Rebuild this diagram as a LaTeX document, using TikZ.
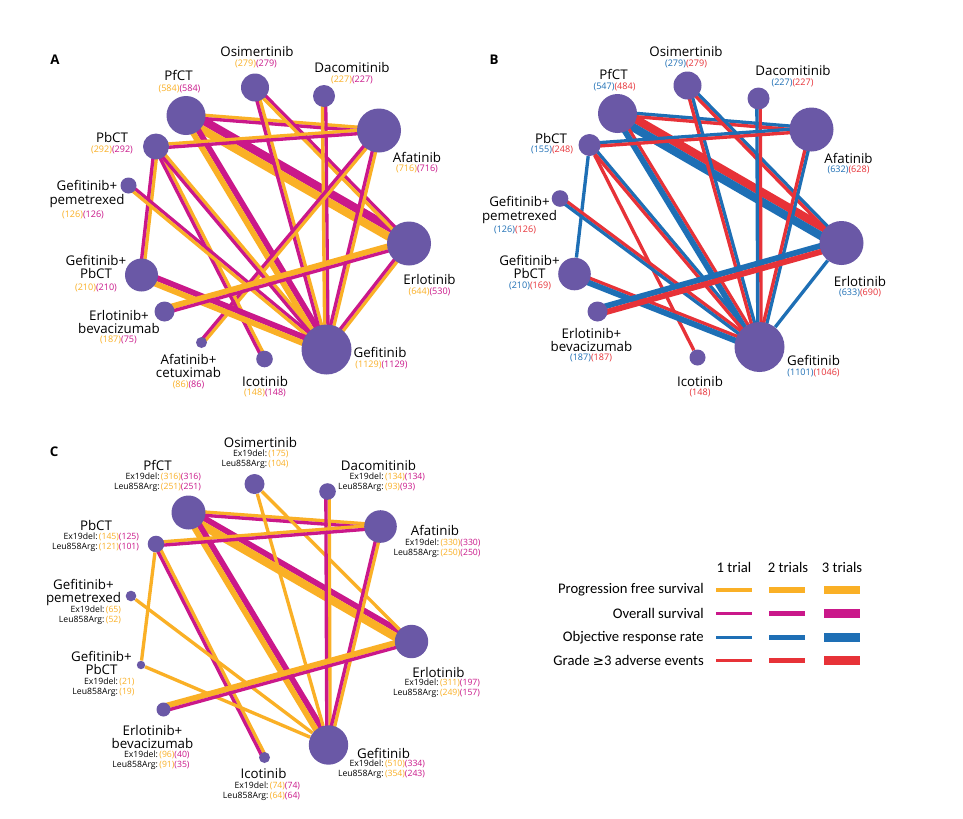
\documentclass[tikz,border=0pt]{standalone}
\usepackage{fontspec}
\setmainfont{Open Sans}
\newfontfamily\legfont{Carlito}
\usetikzlibrary{calc,backgrounds}

\definecolor{drugpurple}{RGB}{106,88,166}
\definecolor{pfs}{RGB}{250,176,38}
\definecolor{os}{RGB}{202,24,138}
\definecolor{orr}{RGB}{30,111,181}
\definecolor{ae}{RGB}{231,50,56}

% patient numbers
\newcommand{\npfs}[1]{\textcolor{pfs}{(#1)}}
\newcommand{\nos}[1]{\textcolor{os}{(#1)}}
\newcommand{\norr}[1]{\textcolor{orr}{(#1)}}
\newcommand{\nae}[1]{\textcolor{ae}{(#1)}}
\newcommand{\mut}[2]{\begin{tabular}{@{}r@{\,}l@{}}Ex19del: & #1\\Leu858Arg: & #2\end{tabular}}

% two outcomes side by side: from, to, left colour, trials, right colour, trials
\newcommand{\twin}[6]{%
  \pgfmathsetmacro{\hl}{0.3125+0.9375*#4}%
  \pgfmathsetmacro{\hr}{0.3125+0.9375*#6}%
  \draw[#3, line width=2*\hl pt] ($(#1.center)!\hl pt!90:(#2.center)$) -- ($(#2.center)!\hl pt!-90:(#1.center)$);
  \draw[#5, line width=2*\hr pt] ($(#1.center)!\hr pt!-90:(#2.center)$) -- ($(#2.center)!\hr pt!90:(#1.center)$);
}

\begin{document}
\begin{tikzpicture}[x=0.75pt,y=-0.75pt,
    drug/.style={circle,fill=drugpurple,inner sep=0pt,minimum size=#1*1.5pt},
    drugname/.style={font=\fontsize{10}{9.8}\selectfont,align=center,inner sep=0pt},
    nums/.style={font=\fontsize{6.8}{7.5}\selectfont,inner sep=0pt},
    subrow/.style={font=\fontsize{6.5}{7.5}\selectfont,inner sep=0pt},
    panel/.style={font=\bfseries\fontsize{10}{10}\selectfont,inner sep=0pt},
    legtext/.style={font=\legfont\fontsize{11}{12}\selectfont,inner sep=0pt},
    tr1/.style={line width=2.5pt},
    tr2/.style={line width=4.375pt},
    tr3/.style={line width=6.25pt}]
    \useasboundingbox (0,0) rectangle (963,818);

    % Panel A: progression free survival and overall survival
    \node[drug=19.5] (pfctA) at (186,115.5) {};
    \node[drug=14] (osimA) at (255,87.5) {};
    \node[drug=11] (dacoA) at (324,96) {};
    \node[drug=22] (afatA) at (379,130.5) {};
    \node[drug=13] (pbctA) at (156,146.5) {};
    \node[drug=8] (gpemA) at (128.5,185.5) {};
    \node[drug=22] (erloA) at (409,243.5) {};
    \node[drug=16.5] (gpbctA) at (141.5,275) {};
    \node[drug=10] (erbevA) at (164.5,311.5) {};
    \node[drug=5.5] (afcetA) at (201.5,342.5) {};
    \node[drug=8.3] (icotA) at (264.5,359) {};
    \node[drug=25] (gefiA) at (326.5,349.5) {};

    \node[panel] (labA) at (55,60) {A};
    \node[drugname] (osimAt) at (257,51) {Osimertinib};
    \node[nums] (osimAn) at (256,64) {\npfs{279}\nos{279}};
    \node[drugname] (dacoAt) at (352,67) {Dacomitinib};
    \node[nums] (dacoAn) at (352,79.5) {\npfs{227}\nos{227}};
    \node[drugname] (pfctAt) at (178.5,75) {PfCT};
    \node[nums] (pfctAn) at (179.5,89) {\npfs{584}\nos{584}};
    \node[drugname] (pbctAt) at (112,137.5) {PbCT};
    \node[nums] (pbctAn) at (112,149.5) {\npfs{292}\nos{292}};
    \node[drugname] (afatAt) at (417,157) {Afatinib};
    \node[nums] (afatAn) at (417,169) {\npfs{716}\nos{716}};
    \node[drugname] (gpemAt) at (87,194) {Gefitinib+\\pemetrexed};
    \node[nums] (gpemAn) at (83,214.5) {\npfs{126}\nos{126}};
    \node[drugname] (gpbctAt) at (96,267) {Gefitinib+\\PbCT};
    \node[nums] (gpbctAn) at (96,288) {\npfs{210}\nos{210}};
    \node[drugname] (erbevAt) at (119,322) {Erlotinib+\\bevacizumab};
    \node[nums] (erbevAn) at (118.5,340) {\npfs{187}\nos{75}};
    \node[drugname] (afcetAt) at (188.5,366) {Afatinib+\\cetuximab};
    \node[nums] (afcetAn) at (188.5,384.5) {\npfs{86}\nos{86}};
    \node[drugname] (icotAt) at (265,381) {Icotinib};
    \node[nums] (icotAn) at (265,393) {\npfs{148}\nos{148}};
    \node[drugname] (gefiAt) at (380,352.5) {Gefitinib};
    \node[nums] (gefiAn) at (381.5,365) {\npfs{1129}\nos{1129}};
    \node[drugname] (erloAt) at (429.5,279.5) {Erlotinib};
    \node[nums] (erloAn) at (429.5,292) {\npfs{644}\nos{530}};

    % Panel B: objective response rate and grade >=3 adverse events
    \node[drug=19.5] (pfctB) at (617.5,113.5) {};
    \node[drug=14] (osimB) at (687.5,85.5) {};
    \node[drug=11] (dacoB) at (758.5,98.5) {};
    \node[drug=22] (afatB) at (811.5,129.5) {};
    \node[drug=11] (pbctB) at (589.5,145) {};
    \node[drug=8.3] (gpemB) at (560,198.5) {};
    \node[drug=22] (erloB) at (841.5,243) {};
    \node[drug=16.3] (gpbctB) at (574.5,274) {};
    \node[drug=10] (erbevB) at (597.5,311.5) {};
    \node[drug=8] (icotB) at (697.5,357.5) {};
    \node[drug=25] (gefiB) at (759.5,347) {};

    \node[panel] (labB) at (494,59.5) {B};
    \node[drugname] (osimBt) at (686,51) {Osimertinib};
    \node[nums] (osimBn) at (686,64) {\norr{279}\nae{279}};
    \node[drugname] (dacoBt) at (793,70) {Dacomitinib};
    \node[nums] (dacoBn) at (792.5,83) {\norr{227}\nae{227}};
    \node[drugname] (pfctBt) at (613.5,74) {PfCT};
    \node[nums] (pfctBn) at (614.5,86.5) {\norr{547}\nae{484}};
    \node[drugname] (pbctBt) at (551,138.5) {PbCT};
    \node[nums] (pbctBn) at (552,149.5) {\norr{155}\nae{248}};
    \node[drugname] (afatBt) at (848.5,158.5) {Afatinib};
    \node[nums] (afatBn) at (848.5,169.5) {\norr{632}\nae{628}};
    \node[drugname] (gpemBt) at (519.5,210) {Gefitinib+\\pemetrexed};
    \node[nums] (gpemBn) at (515,230) {\norr{126}\nae{126}};
    \node[drugname] (gpbctBt) at (529.5,266.5) {Gefitinib+\\PbCT};
    \node[nums] (gpbctBn) at (530,286) {\norr{210}\nae{169}};
    \node[drugname] (erbevBt) at (591.5,340) {Erlotinib+\\bevacizumab};
    \node[nums] (erbevBn) at (591,357.5) {\norr{187}\nae{187}};
    \node[drugname] (icotBt) at (700,381) {Icotinib};
    \node[nums] (icotBn) at (700,393) {\nae{148}};
    \node[drugname] (gefiBt) at (813.5,360) {Gefitinib};
    \node[nums] (gefiBn) at (813.5,373) {\norr{1101}\nae{1046}};
    \node[drugname] (erloBt) at (860,281) {Erlotinib};
    \node[nums] (erloBn) at (860,292.5) {\norr{633}\nae{690}};

    % Panel C: by mutation type
    \node[drug=17] (pfctC) at (188.5,512.5) {};
    \node[drug=10] (osimC) at (254.5,484) {};
    \node[drug=8.3] (dacoC) at (327.5,491.5) {};
    \node[drug=16.3] (afatC) at (380.5,526.5) {};
    \node[drug=8.3] (pbctC) at (156,544) {};
    \node[drug=5.3] (gpemC) at (131,596) {};
    \node[drug=4.2] (gpbctC) at (141,665) {};
    \node[drug=7] (erbevC) at (163.5,709.5) {};
    \node[drug=5.5] (icotC) at (264.5,757.5) {};
    \node[drug=19.7] (gefiC) at (328.5,745) {};
    \node[drug=16.7] (erloC) at (411.5,641.5) {};

    \node[panel] (labC) at (54,452) {C};
    \node[drugname] (osimCt) at (260.5,442.5) {Osimertinib};
    \node[subrow] (osimCn) at (255,459.5) {\mut{\npfs{175}}{\npfs{104}}};
    \node[drugname] (pfctCt) at (157.5,465) {PfCT};
    \node[subrow] (pfctCn) at (157.5,482.5) {\mut{\npfs{316}\nos{316}}{\npfs{251}\nos{251}}};
    \node[drugname] (dacoCt) at (378.5,465) {Dacomitinib};
    \node[subrow] (dacoCn) at (381.5,482.5) {\mut{\npfs{134}\nos{134}}{\npfs{93}\nos{93}}};
    \node[drugname] (pbctCt) at (96,525.5) {PbCT};
    \node[subrow] (pbctCn) at (95.5,542.5) {\mut{\npfs{145}\nos{125}}{\npfs{121}\nos{101}}};
    \node[drugname] (afatCt) at (435,530) {Afatinib};
    \node[subrow] (afatCn) at (437,548.5) {\mut{\npfs{330}\nos{330}}{\npfs{250}\nos{250}}};
    \node[drugname] (gpemCt) at (83.5,592.5) {Gefitinib+\\pemetrexed};
    \node[subrow] (gpemCn) at (90,615.5) {\mut{\npfs{65}}{\npfs{52}}};
    \node[drugname] (gpbctCt) at (101.5,663) {Gefitinib+\\PbCT};
    \node[subrow] (gpbctCn) at (103.5,687) {\mut{\npfs{21}}{\npfs{19}}};
    \node[drugname] (erbevCt) at (152.5,737) {Erlotinib+\\bevacizumab};
    \node[subrow] (erbevCn) at (151,760) {\mut{\npfs{96}\nos{40}}{\npfs{91}\nos{35}}};
    \node[drugname] (icotCt) at (263.5,773.5) {Icotinib};
    \node[subrow] (icotCn) at (261.5,791) {\mut{\npfs{74}\nos{74}}{\npfs{64}\nos{64}}};
    \node[drugname] (gefiCt) at (383.5,753.5) {Gefitinib};
    \node[subrow] (gefiCn) at (381.5,769.5) {\mut{\npfs{510}\nos{334}}{\npfs{354}\nos{243}}};
    \node[drugname] (erloCt) at (438.5,672) {Erlotinib};
    \node[subrow] (erloCn) at (436.5,688.5) {\mut{\npfs{311}\nos{197}}{\npfs{249}\nos{157}}};

    % Legend
    \node[legtext] (hd1) at (734,567) {1 trial};
    \node[legtext] (hd2) at (788,567) {2 trials};
    \node[legtext] (hd3) at (842,567) {3 trials};
    \node[legtext,anchor=east] (leg1) at (704,590) {Progression free survival};
    \node[legtext,anchor=east] (leg2) at (704,613.5) {Overall survival};
    \node[legtext,anchor=east] (leg3) at (704,637.5) {Objective response rate};
    \node[legtext,anchor=east] (leg4) at (704,660.5) {Grade \fontspec{DejaVu Sans}\fontsize{10}{12}\selectfont ≥\legfont\fontsize{11}{12}\selectfont 3 adverse events};
    \foreach \c/\y in {pfs/590,os/613.5,orr/637.5,ae/660.5} {
        \draw[\c,tr1] (716,\y) -- (752,\y);
        \draw[\c,tr2] (769,\y) -- (805,\y);
        \draw[\c,tr3] (824,\y) -- (860,\y);
    }

    \begin{scope}[on background layer]
        \fill[white] (0,0) rectangle (963,818);
        % A
        \twin{pfctA}{afatA}{pfs}{1}{os}{1}
        \twin{pfctA}{erloA}{os}{3}{pfs}{3}
        \twin{pfctA}{gefiA}{os}{2}{pfs}{2}
        \twin{osimA}{gefiA}{pfs}{1}{os}{1}
        \twin{osimA}{erloA}{os}{1}{pfs}{1}
        \twin{dacoA}{gefiA}{os}{1}{pfs}{1}
        \twin{afatA}{gefiA}{pfs}{1}{os}{1}
        \twin{afatA}{afcetA}{pfs}{1}{os}{1}
        \twin{pbctA}{afatA}{pfs}{1}{os}{1}
        \twin{pbctA}{gpbctA}{pfs}{1}{os}{1}
        \twin{pbctA}{icotA}{pfs}{1}{os}{1}
        \twin{pbctA}{gefiA}{pfs}{1}{os}{1}
        \twin{gpemA}{gefiA}{os}{1}{pfs}{1}
        \twin{gpbctA}{gefiA}{os}{2}{pfs}{2}
        \twin{erbevA}{erloA}{pfs}{2}{os}{1}
        \twin{erloA}{gefiA}{pfs}{1}{os}{1}
        % B
        \twin{pfctB}{afatB}{orr}{1}{ae}{1}
        \twin{pfctB}{erloB}{ae}{3}{orr}{3}
        \twin{pfctB}{gefiB}{ae}{1}{orr}{2}
        \twin{osimB}{gefiB}{orr}{1}{ae}{1}
        \twin{osimB}{erloB}{orr}{1}{ae}{1}
        \twin{dacoB}{gefiB}{ae}{1}{orr}{1}
        \twin{afatB}{gefiB}{orr}{1}{ae}{1}
        \twin{pbctB}{afatB}{orr}{1}{ae}{1}
        \draw[orr,tr1] (pbctB) -- (gpbctB);
        \draw[ae,tr1] (pbctB) -- (icotB);
        \twin{pbctB}{gefiB}{orr}{1}{ae}{1}
        \twin{gpemB}{gefiB}{ae}{1}{orr}{1}
        \twin{gpbctB}{gefiB}{ae}{1}{orr}{2}
        \twin{erbevB}{erloB}{orr}{2}{ae}{2}
        \draw[orr,tr1] (erloB) -- (gefiB);
        % C
        \twin{pfctC}{afatC}{pfs}{1}{os}{1}
        \twin{pfctC}{erloC}{os}{2}{pfs}{3}
        \twin{pfctC}{gefiC}{os}{2}{pfs}{2}
        \draw[pfs,tr1] (osimC) -- (gefiC);
        \draw[pfs,tr1] (osimC) -- (erloC);
        \twin{dacoC}{gefiC}{pfs}{1}{os}{1}
        \twin{afatC}{gefiC}{pfs}{1}{os}{1}
        \twin{pbctC}{afatC}{pfs}{1}{os}{1}
        \draw[pfs,tr1] (pbctC) -- (gpbctC);
        \twin{pbctC}{icotC}{pfs}{1}{os}{1}
        \draw[pfs,tr1] (gpemC) -- (gefiC);
        \draw[pfs,tr1] (gpbctC) -- (gefiC);
        \twin{erbevC}{erloC}{pfs}{2}{os}{1}
    \end{scope}
\end{tikzpicture}
\end{document}
